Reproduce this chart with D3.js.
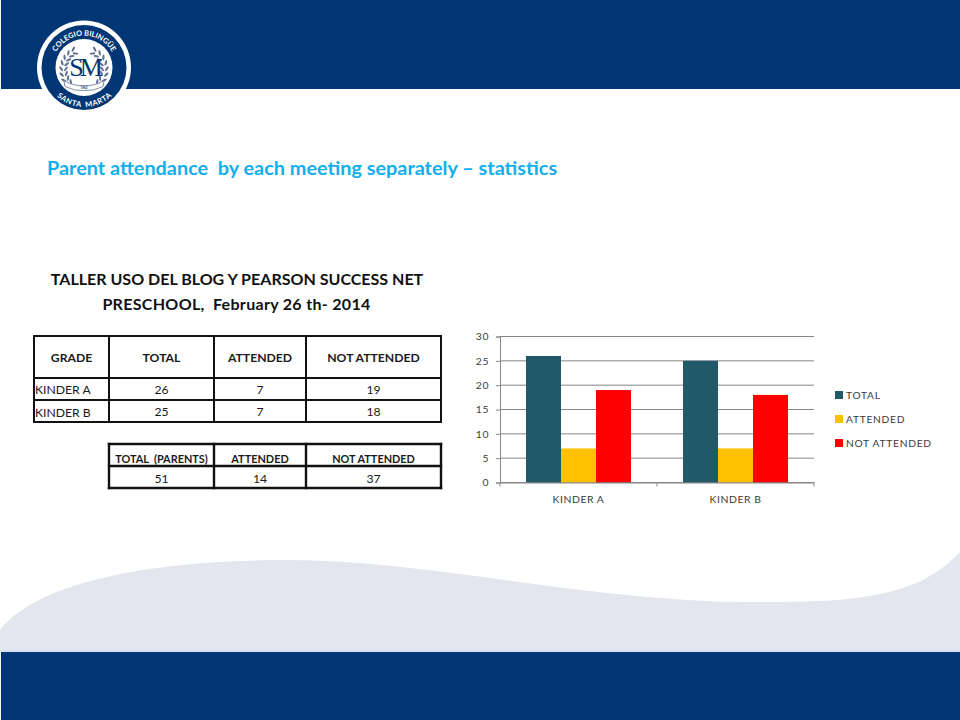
<!DOCTYPE html>
<html><head><meta charset="utf-8">
<script src="https://cdn.jsdelivr.net/npm/d3@7/dist/d3.min.js"></script>
<style>html,body{margin:0;padding:0;background:#fff}svg{display:block}text{font-family:Lato,"Open Sans",sans-serif}</style>
</head><body><svg id="c" width="960" height="720" xmlns="http://www.w3.org/2000/svg"></svg>
<script>
const categories = ["KINDER A", "KINDER B"];
const seriesNames = ["TOTAL", "ATTENDED", "NOT ATTENDED"];
const totalValues = [26, 25];
const attendedValues = [7, 7];
const notAttendedValues = [19, 18];
const yTicks = [0, 5, 10, 15, 20, 25, 30];
const summaryHeader = ["TOTAL  (PARENTS)", "ATTENDED", "NOT ATTENDED"];
const summaryValues = [51, 14, 37];
const detailHeader = ["GRADE", "TOTAL", "ATTENDED", "NOT ATTENDED"];
const seriesColors = ["#215968", "#ffc000", "#ff0000"];

const NAVY = "#003673";
const svg = d3.select("#c");
svg.append("rect").attr("width",960).attr("height",720).attr("fill","#fff");

// Slide background
svg.append("path").attr("fill","#e3e6ef")
  .attr("d","M0,630 C32,588 130,560 288,560 C430,560 590,602 753,602 C850,602 915,600 960,552 L960,651 L0,651 Z");
svg.append("rect").attr("x",0).attr("y",650).attr("width",960).attr("height",2).attr("fill","#d6dff0");
svg.append("rect").attr("x",1).attr("y",652).attr("width",959).attr("height",68).attr("fill",NAVY);
svg.append("rect").attr("x",1).attr("y",0).attr("width",959).attr("height",89).attr("fill",NAVY);

// Logo
const logo = svg.append("g").attr("transform","translate(84,67.5)");
logo.append("circle").attr("r",47).attr("fill","#fff");
logo.append("circle").attr("r",42.5).attr("fill",NAVY);
logo.append("circle").attr("r",28.5).attr("fill","#fff");
const defs = svg.append("defs");
defs.append("path").attr("id","arcTop").attr("d","M-31,8 A32,32 0 1 1 31,8");
defs.append("path").attr("id","arcBottom").attr("d","M-30,26 A40,40 0 0 0 30,26");
logo.append("text").attr("font-size",7.4).attr("font-weight",700).attr("fill","#fff").attr("text-anchor","middle")
  .append("textPath").attr("href","#arcTop").attr("startOffset","50%").text("COLEGIO BILINGÜE");
[["SANTA","26%"],["MARTA","74%"]].forEach(([word,offset])=>{
  logo.append("text").attr("font-size",7.6).attr("font-weight",700).attr("fill","#fff").attr("text-anchor","middle")
    .append("textPath").attr("href","#arcBottom").attr("startOffset",offset).attr("letter-spacing",0.6).text(word);
});
// laurel wreath
const wreath = logo.append("g");
d3.range(8).forEach(i=>{
  [-1,1].forEach(s=>{
    const deg = -62 + i*15;
    const a = deg*Math.PI/180;
    [-1,1].forEach(side=>{
      const r = 20.5 + side*2.4;
      wreath.append("ellipse").attr("rx",2.9).attr("ry",1.1)
        .attr("transform",`translate(${s*r*Math.cos(a)},${r*Math.sin(a)+2}) rotate(${s*(deg+90+side*35)})`)
        .attr("fill","#5f7190");
    });
  });
});
logo.append("path").attr("fill","#fff").attr("stroke","#5f7190").attr("stroke-width",0.8)
  .attr("d","M-20,13 Q-10,19 0,18 Q10,19 20,13 L19,19 Q9,24 0,23 Q-9,24 -19,19 Z");
logo.append("text").attr("y",8).attr("text-anchor","middle").attr("font-size",26).attr("letter-spacing",-4)
  .style("font-family","'Liberation Serif',serif").attr("fill",NAVY).text("SM");
logo.append("text").attr("y",21.6).attr("text-anchor","middle").attr("font-size",3).attr("font-weight",700).attr("fill",NAVY).text("1963");

// Titles
svg.append("text").attr("x",47).attr("y",175).attr("font-size",19.85).attr("font-weight",700).attr("fill","#12aeee")
  .style("white-space","pre").text("Parent attendance  by each meeting separately – statistics");
svg.append("text").attr("x",237).attr("y",285).attr("text-anchor","middle").attr("font-size",16.05).attr("font-weight",700).attr("fill","#111")
  .text("TALLER USO DEL BLOG Y PEARSON SUCCESS NET");
svg.append("text").attr("x",236.5).attr("y",310).attr("text-anchor","middle").attr("font-size",16.05).attr("font-weight",700).attr("letter-spacing",0.3).attr("fill","#111")
  .style("white-space","pre").text("PRESCHOOL,  February 26 th- 2014");

// Tables
function grid(xs, ys, w){
  const g = svg.append("g").attr("stroke","#111").attr("stroke-width",w).attr("fill","none");
  xs.forEach(x=>g.append("line").attr("x1",x).attr("x2",x).attr("y1",ys[0]-w/2).attr("y2",ys[ys.length-1]+w/2));
  ys.forEach(y=>g.append("line").attr("x1",xs[0]-w/2).attr("x2",xs[xs.length-1]+w/2).attr("y1",y).attr("y2",y));
}
function cell(t,x,y,size,weight,anchor){
  svg.append("text").attr("x",x).attr("y",y).attr("font-size",size).attr("font-weight",weight||400)
    .attr("text-anchor",anchor||"middle").attr("fill","#1a1a1a").style("white-space","pre").text(t);
}
const tx=[34,109,214,306,441], ty=[336,378,400,422];
grid(tx,ty,2);
detailHeader.forEach((h,i)=>cell(h,(tx[i]+tx[i+1])/2,362,12.2,700));
categories.forEach((c,r)=>{
  const by=[394,416.5][r], ny=[393.5,415.5][r];
  cell(c,35,by,12.2,400,"start");
  [totalValues,attendedValues,notAttendedValues].forEach((arr,i)=>cell(arr[r],(tx[i+1]+tx[i+2])/2,ny,12.2));
});
const sx=[109,214,306,441], sy=[444,466,488];
grid(sx,sy,2.4);
summaryHeader.forEach((h,i)=>cell(h,(sx[i]+sx[i+1])/2,462.5,10.9,700));
summaryValues.forEach((v,i)=>cell(v,(sx[i]+sx[i+1])/2,483,12.2));

// Chart
const plot={l:500,r:814,t:336.5,b:482.5};
const x=d3.scaleBand().domain(categories).range([plot.l,plot.r]);
const inner=d3.scaleBand().domain(seriesNames).range([0,x.bandwidth()]).paddingInner(0).paddingOuter(0.743);
const y=d3.scaleLinear().domain([0,30]).range([plot.b,plot.t]);
const color=d3.scaleOrdinal().domain(seriesNames).range(seriesColors);
const AXIS="#868686";
const grd=svg.append("g");
grd.selectAll("line").data(yTicks).join("line")
  .attr("x1",plot.l).attr("x2",plot.r).attr("y1",d=>y(d)).attr("y2",d=>y(d))
  .attr("stroke",AXIS).attr("stroke-width",1);
const yAxis=svg.append("g").attr("transform",`translate(${plot.l},0)`)
  .call(d3.axisLeft(y).tickValues(yTicks).tickSize(4).tickPadding(7));
const seriesValues=[totalValues,attendedValues,notAttendedValues];
seriesNames.forEach((s,si)=>{
  svg.append("g").selectAll("rect").data(categories).join("rect")
    .attr("x",c=>x(c)+inner(s)).attr("width",inner.bandwidth())
    .attr("y",(c,i)=>y(seriesValues[si][i]))
    .attr("height",(c,i)=>y(0)-y(seriesValues[si][i]))
    .attr("fill",color(s));
});
const xAxis=svg.append("g").attr("transform",`translate(0,${plot.b})`)
  .call(d3.axisBottom(x).tickSize(0).tickPadding(13));
xAxis.selectAll(".bound").data([plot.l,...categories.map(c=>x(c)+x.bandwidth())]).join("line").attr("class","bound")
  .attr("x1",d=>d).attr("x2",d=>d).attr("y1",0).attr("y2",4).attr("stroke",AXIS);
[yAxis,xAxis].forEach(a=>{
  a.selectAll(".domain").attr("stroke",AXIS);
  a.selectAll(".tick line").attr("stroke",AXIS);
  a.selectAll("text").attr("font-size",10.4).attr("fill","#3a3a3a")
   .style("font-family","Lato,sans-serif").attr("letter-spacing",0.55);
});
// Legend
const leg=svg.append("g").selectAll("g").data(seriesNames).join("g")
  .attr("transform",(d,i)=>`translate(835,${395+i*24})`);
leg.append("rect").attr("y",-4).attr("width",8).attr("height",8).attr("fill",d=>color(d));
leg.append("text").attr("x",11).attr("y",4).attr("font-size",10.2).attr("letter-spacing",0.75).attr("fill","#3a3a3a").text(d=>d);
</script></body></html>
